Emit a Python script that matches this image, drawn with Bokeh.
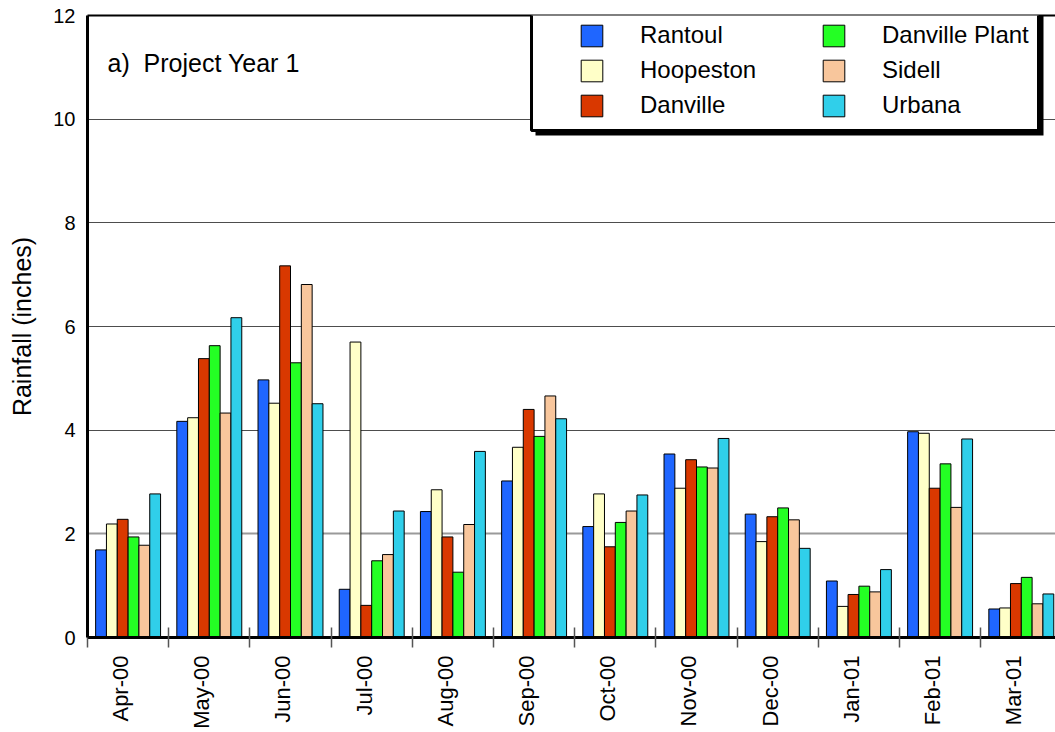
import math
from bokeh.plotting import figure
from bokeh.models import (Range1d, FixedTicker, CustomJSTickFormatter, ColumnDataSource,
                          Legend, LegendItem, BoxAnnotation, Label, Grid, LinearAxis)
from bokeh.transform import dodge
from bokeh.embed import file_html
from bokeh.resources import INLINE

months = ["Apr-00", "May-00", "Jun-00", "Jul-00", "Aug-00", "Sep-00",
          "Oct-00", "Nov-00", "Dec-00", "Jan-01", "Feb-01", "Mar-01"]
rantoul = [1.69, 4.17, 4.97, 0.93, 2.43, 3.02, 2.14, 3.54, 2.38, 1.09, 3.97, 0.55]
hoopeston = [2.19, 4.24, 4.52, 5.70, 2.85, 3.67, 2.77, 2.88, 1.85, 0.60, 3.94, 0.57]
danville = [2.28, 5.38, 7.17, 0.62, 1.94, 4.40, 1.75, 3.43, 2.33, 0.83, 2.88, 1.04]
danville_plant = [1.94, 5.63, 5.30, 1.48, 1.26, 3.88, 2.22, 3.29, 2.50, 0.99, 3.35, 1.16]
sidell = [1.78, 4.33, 6.81, 1.60, 2.18, 4.66, 2.44, 3.27, 2.27, 0.88, 2.51, 0.65]
urbana = [2.77, 6.17, 4.51, 2.44, 3.59, 4.22, 2.75, 3.84, 1.72, 1.31, 3.83, 0.84]
y_ticks = [0, 2, 4, 6, 8, 10, 12]

series = [("Rantoul", "rantoul", rantoul, "#1F66FF"),
          ("Hoopeston", "hoopeston", hoopeston, "#FFFFC8"),
          ("Danville", "danville", danville, "#D93800"),
          ("Danville Plant", "danville_plant", danville_plant, "#24FF24"),
          ("Sidell", "sidell", sidell, "#F8C69C"),
          ("Urbana", "urbana", urbana, "#30CFEA")]

FONT = "Liberation Sans"
PX_PER_MONTH = 81.2
FRAME_LEFT = 87
FRAME_W = 968
PX_PER_UNIT_Y = 622 / 12.0
ZERO_PX = 637          # page y of value 0

p = figure(width=1055, height=732,
           x_range=Range1d(0, FRAME_W / PX_PER_MONTH), y_range=Range1d(0, 12),
           output_backend="svg", toolbar_location=None,
           x_axis_type=None, y_axis_type=None,
           min_border_left=FRAME_LEFT, min_border_right=0, min_border_top=15,
           min_border_bottom=732 - ZERO_PX)
p.xgrid.visible = False
p.ygrid.visible = False
p.outline_line_color = None
p.background_fill_color = "white"
p.border_fill_color = "white"

# horizontal grid
p.add_layout(Grid(dimension=1, ticker=FixedTicker(ticks=[4, 6, 8, 10]),
                  grid_line_color="#4d4d4d", grid_line_width=1))
p.add_layout(Grid(dimension=1, ticker=FixedTicker(ticks=[2]),
                  grid_line_color="#9a9a9a", grid_line_width=2))

# bars
src = ColumnDataSource(dict(x=[i + 0.5 for i in range(len(months))],
                            **{key: vals for _, key, vals, _ in series}))
bw = 0.1333
items = []
for k, (name, key, vals, color) in enumerate(series):
    r = p.vbar(x=dodge("x", (k - 2.5) * bw, range=p.x_range), top=key, width=bw,
               bottom=0, source=src, fill_color=color, line_color="black", line_width=1)
    items.append(LegendItem(label=name, renderers=[r]))

# x axis: labels at month centres, tick marks at month boundaries
lbl_shift_x = 7.6 / PX_PER_MONTH
xaxis = LinearAxis(
    ticker=FixedTicker(ticks=[i + 0.5 - lbl_shift_x for i in range(len(months))],
                       minor_ticks=list(range(len(months) + 1))),
    formatter=CustomJSTickFormatter(args=dict(labels=months),
                                    code="const l = labels[Math.floor(tick)]; return l === undefined ? '' : l;"),
    major_label_orientation=math.pi / 2,
    major_tick_in=0, major_tick_out=0,
    minor_tick_in=10, minor_tick_out=10,
    minor_tick_line_color="#555555", minor_tick_line_width=1.5,
    axis_line_color="black", axis_line_width=3,
    major_label_standoff=8,
    major_label_text_font=FONT, major_label_text_font_size="22px",
    major_label_text_color="black")
p.add_layout(xaxis, "below")

# top border of the plot area
top_axis = LinearAxis(ticker=FixedTicker(ticks=[]), major_tick_out=0, major_tick_in=0,
                      minor_tick_line_color=None, major_label_text_font_size="0px",
                      axis_line_color="black", axis_line_width=2)
p.add_layout(top_axis, "above")

# y axis
yaxis = LinearAxis(
    ticker=FixedTicker(ticks=y_ticks),
    major_tick_in=0, major_tick_out=0, minor_tick_line_color=None,
    axis_line_color="black", axis_line_width=3,
    major_label_standoff=12,
    major_label_text_font=FONT, major_label_text_font_size="20px",
    major_label_text_color="black",
    axis_label="Rainfall (inches)", axis_label_standoff=14,
    axis_label_text_font=FONT, axis_label_text_font_size="25px",
    axis_label_text_font_style="normal", axis_label_text_color="black")
p.add_layout(yaxis, "left")

# legend frame with drop shadow
def dx(px):
    return (px - FRAME_LEFT) / PX_PER_MONTH

def dy(py):
    return (ZERO_PX - py) / PX_PER_UNIT_Y

p.add_layout(BoxAnnotation(left=dx(535), right=dx(1043), top=dy(14), bottom=dy(135),
                           fill_color="black", fill_alpha=1, line_color=None, level="overlay"))
p.add_layout(BoxAnnotation(left=dx(531), right=dx(1038), top=dy(10), bottom=dy(130),
                           fill_color="white", fill_alpha=1, line_color="black",
                           line_width=3, line_alpha=1, level="overlay"))

legend = Legend(items=items, location=(578 - FRAME_LEFT, ZERO_PX - 119),
                orientation="vertical", nrows=3,
                glyph_width=27, glyph_height=27, label_height=27, label_width=173,
                label_standoff=35, spacing=7, padding=0, margin=0,
                background_fill_alpha=0, border_line_color=None,
                label_text_font=FONT, label_text_font_size="24px",
                label_text_color="black")
legend.level = "overlay"
p.add_layout(legend)

p.add_layout(Label(x=dx(107), y=dy(62), text="a)\u00a0 Project Year 1",
                   text_font=FONT, text_font_size="25px", text_color="black",
                   text_baseline="alphabetic"))

open("out.html", "w").write(file_html(p, INLINE))
